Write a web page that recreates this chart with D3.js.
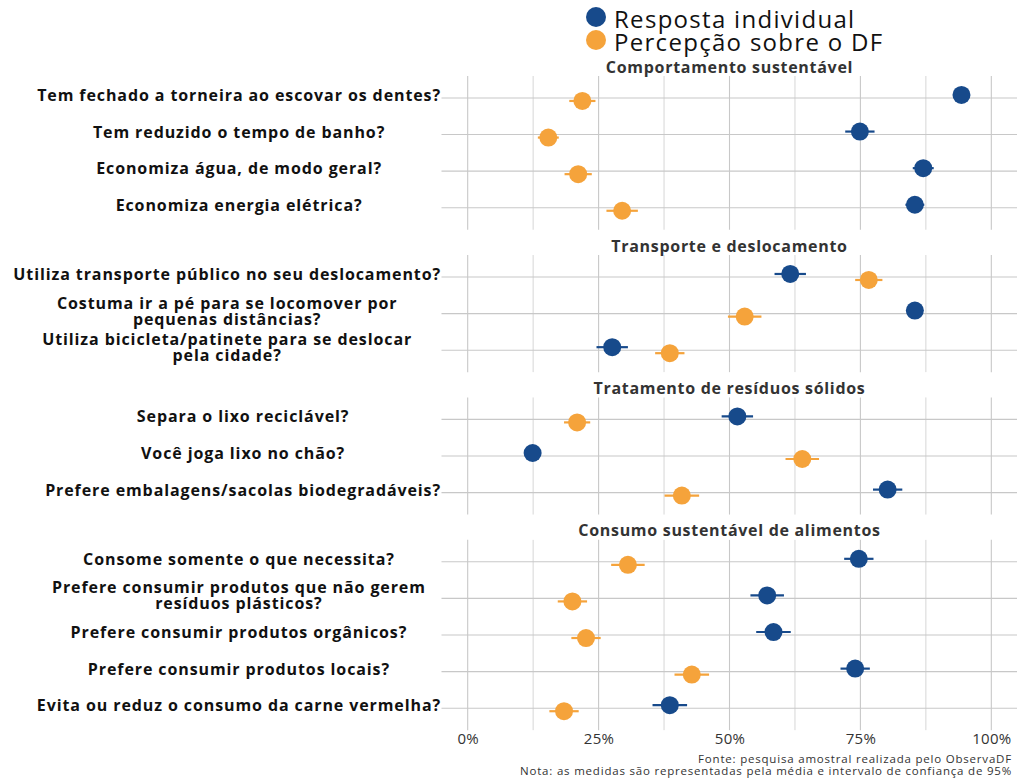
<!DOCTYPE html>
<html>
<head>
<meta charset="utf-8">
<script src="https://cdn.jsdelivr.net/npm/d3@7"></script>
<style>
  body { margin: 0; background: #fff; }
  svg { display: block; font-family: "Open Sans", "Noto Sans", sans-serif; }
</style>
</head>
<body>
<div id="chart"></div>
<script>
// facets, in drawing order
var panels = ["Comportamento sustentável", "Transporte e deslocamento",
              "Tratamento de resíduos sólidos", "Consumo sustentável de alimentos"];

// one entry per question, with the facet it belongs to
var questions = [
    ["Tem fechado a torneira ao escovar os dentes?"],
    ["Tem reduzido o tempo de banho?"],
    ["Economiza água, de modo geral?"],
    ["Economiza energia elétrica?"],
    ["Utiliza transporte público no seu deslocamento?"],
    ["Costuma ir a pé para se locomover por", "pequenas distâncias?"],
    ["Utiliza bicicleta/patinete para se deslocar", "pela cidade?"],
    ["Separa o lixo reciclável?"],
    ["Você joga lixo no chão?"],
    ["Prefere embalagens/sacolas biodegradáveis?"],
    ["Consome somente o que necessita?"],
    ["Prefere consumir produtos que não gerem", "resíduos plásticos?"],
    ["Prefere consumir produtos orgânicos?"],
    ["Prefere consumir produtos locais?"],
    ["Evita ou reduz o consumo da carne vermelha?"]
];
var questionPanel = [0, 0, 0, 0, 1, 1, 1, 2, 2, 2, 3, 3, 3, 3, 3];

// means (%) and half width of the 95% interval (%)
var individual   = [94.3, 74.9, 87.0, 85.4, 61.6, 85.4, 27.6, 51.5, 12.4, 80.2, 74.7, 57.2, 58.4, 74.0, 38.6];
var individualCI = [1.2, 2.8, 2.0, 1.8, 3.0, 1.5, 3.0, 3.0, 1.0, 2.8, 2.8, 3.2, 3.3, 2.8, 3.3];
var percepcao    = [21.9, 15.4, 21.1, 29.5, 76.6, 52.9, 38.6, 20.9, 63.9, 40.9, 30.6, 20.0, 22.6, 42.8, 18.4];
var percepcaoCI  = [2.5, 2.0, 2.6, 3.0, 2.6, 3.2, 2.8, 2.5, 3.2, 3.3, 3.2, 2.8, 2.8, 3.3, 2.8];

var seriesNames = ["Resposta individual", "Percepção sobre o DF"];
var seriesColors = ["#174a8b", "#f5a33b"];
var xTicks = [0, 0.25, 0.5, 0.75, 1];
var xMinor = [0.125, 0.375, 0.625, 0.875];

var width = 1017, height = 779;
var svg = d3.select("#chart").append("svg")
    .attr("width", width)
    .attr("height", height);

var x = d3.scaleLinear().domain([-0.05, 1.05]).range([441.5, 1017.5]);
var rowStep = 36.6;
var stripGap = 25.3;
var firstTop = 76;

// panel boxes
var boxes = [];
var panelTop = firstTop;
panels.forEach(function(p, i){
    var rows = questions.map(function(q, k){ return k; })
        .filter(function(k){ return questionPanel[k] == i; });
    var h = (rows.length - 1 + 1.2) * rowStep;
    var y = d3.scalePoint().domain(rows)
        .range([panelTop + 0.6 * rowStep, panelTop + h - 0.6 * rowStep]);
    boxes.push({name: p, top: panelTop, h: h, rows: rows, y: y});
    panelTop = panelTop + h + stripGap;
});

var points = [];
questions.forEach(function(q, k){
    points.push({q: k, s: 0, v: individual[k] / 100, ci: individualCI[k] / 100});
    points.push({q: k, s: 1, v: percepcao[k] / 100, ci: percepcaoCI[k] / 100});
});

var dodge = 3;

boxes.forEach(function(b, i){
    var g = svg.append("g");

    // minor and major vertical grid
    g.selectAll("line.minor").data(xMinor).enter().append("line")
        .attr("class", "minor")
        .attr("x1", function(d){ return x(d); }).attr("x2", function(d){ return x(d); })
        .attr("y1", b.top).attr("y2", b.top + b.h)
        .attr("stroke", "#d6d6d6").attr("stroke-width", 1);
    g.selectAll("line.major").data(xTicks).enter().append("line")
        .attr("class", "major")
        .attr("x1", function(d){ return x(d); }).attr("x2", function(d){ return x(d); })
        .attr("y1", b.top).attr("y2", b.top + b.h)
        .attr("stroke", "#c8c8c8").attr("stroke-width", 1.1);
    // horizontal grid
    g.selectAll("line.row").data(b.rows).enter().append("line")
        .attr("class", "row")
        .attr("x1", x.range()[0]).attr("x2", x.range()[1])
        .attr("y1", function(d){ return b.y(d); }).attr("y2", function(d){ return b.y(d); })
        .attr("stroke", "#c8c8c8").attr("stroke-width", 1.1);

    // strip title
    g.append("text")
        .attr("x", (x.range()[0] + x.range()[1]) / 2)
        .attr("y", b.top - 9.5)
        .attr("text-anchor", "middle")
        .attr("dominant-baseline", "central")
        .attr("font-size", 16)
        .attr("letter-spacing", 0.7)
        .attr("font-weight", "bold")
        .attr("fill", "#333")
        .text(b.name);

    // y labels, centred on the widest label of the facet
    var labels = g.selectAll("text.ylab").data(b.rows).enter().append("text")
        .attr("class", "ylab")
        .attr("x", 0)
        .attr("y", function(d){ return b.y(d); })
        .attr("text-anchor", "middle")
        .attr("font-size", 16)
        .attr("letter-spacing", 0.9)
        .attr("font-weight", "bold")
        .attr("fill", "#111");
    labels.each(function(d){
        var t = d3.select(this);
        var lines = questions[d];
        lines.forEach(function(line, li){
            t.append("tspan")
                .attr("x", 0)
                .attr("dy", li == 0 ? ((-(lines.length - 1) * 16 / 2) + 3) : 16)
                .text(line);
        });
    });
    var maxW = 0;
    labels.selectAll("tspan").each(function(){
        var w = this.getComputedTextLength();
        if (w > maxW) maxW = w;
    });
    var cx = 441 - maxW / 2;
    labels.attr("x", cx).selectAll("tspan").attr("x", cx);

    // intervals and points
    var pts = points.filter(function(p){ return questionPanel[p.q] == i; });
    var py = function(p){ return b.y(p.q) + (p.s == 0 ? -dodge : dodge); };
    g.selectAll("line.ci").data(pts).enter().append("line")
        .attr("class", "ci")
        .attr("x1", function(p){ return x(p.v - p.ci); })
        .attr("x2", function(p){ return x(p.v + p.ci); })
        .attr("y1", py).attr("y2", py)
        .attr("stroke", function(p){ return seriesColors[p.s]; })
        .attr("stroke-width", 2.2);
    g.selectAll("circle").data(pts).enter().append("circle")
        .attr("cx", function(p){ return x(p.v); })
        .attr("cy", py)
        .attr("r", 9)
        .attr("fill", function(p){ return seriesColors[p.s]; });
});

// x axis labels under the last facet
var last = boxes[boxes.length - 1];
var xAxis = d3.axisBottom(x).tickValues(xTicks).tickSize(0).tickPadding(0)
    .tickFormat(d3.format(".0%"));
var ax = svg.append("g")
    .attr("transform", "translate(0," + (last.top + last.h + 3) + ")")
    .call(xAxis);
ax.select(".domain").remove();
ax.selectAll("text")
    .attr("font-family", "\"Open Sans\", sans-serif")
    .attr("font-size", 15)
    .attr("letter-spacing", 0.3)
    .attr("fill", "#333");

// legend
var legend = svg.append("g");
seriesNames.forEach(function(s, i){
    legend.append("circle")
        .attr("cx", 596).attr("cy", 17 + i * 23).attr("r", 10)
        .attr("fill", seriesColors[i]);
    legend.append("text")
        .attr("x", 614).attr("y", 18 + i * 23)
        .attr("dominant-baseline", "central")
        .attr("font-size", 24)
        .attr("letter-spacing", 1.3)
        .attr("fill", "#111")
        .text(s);
});

// caption
var caption = ["Fonte: pesquisa amostral realizada pelo ObservaDF",
               "Nota: as medidas são representadas pela média e intervalo de confiança de 95%"];
caption.forEach(function(c, i){
    svg.append("text")
        .attr("x", 1012).attr("y", 758 + i * 12.5)
        .attr("text-anchor", "end")
        .attr("dominant-baseline", "central")
        .attr("font-size", 11.5)
        .attr("letter-spacing", 0.8)
        .attr("fill", "#333")
        .text(c);
});
</script>
</body>
</html>
